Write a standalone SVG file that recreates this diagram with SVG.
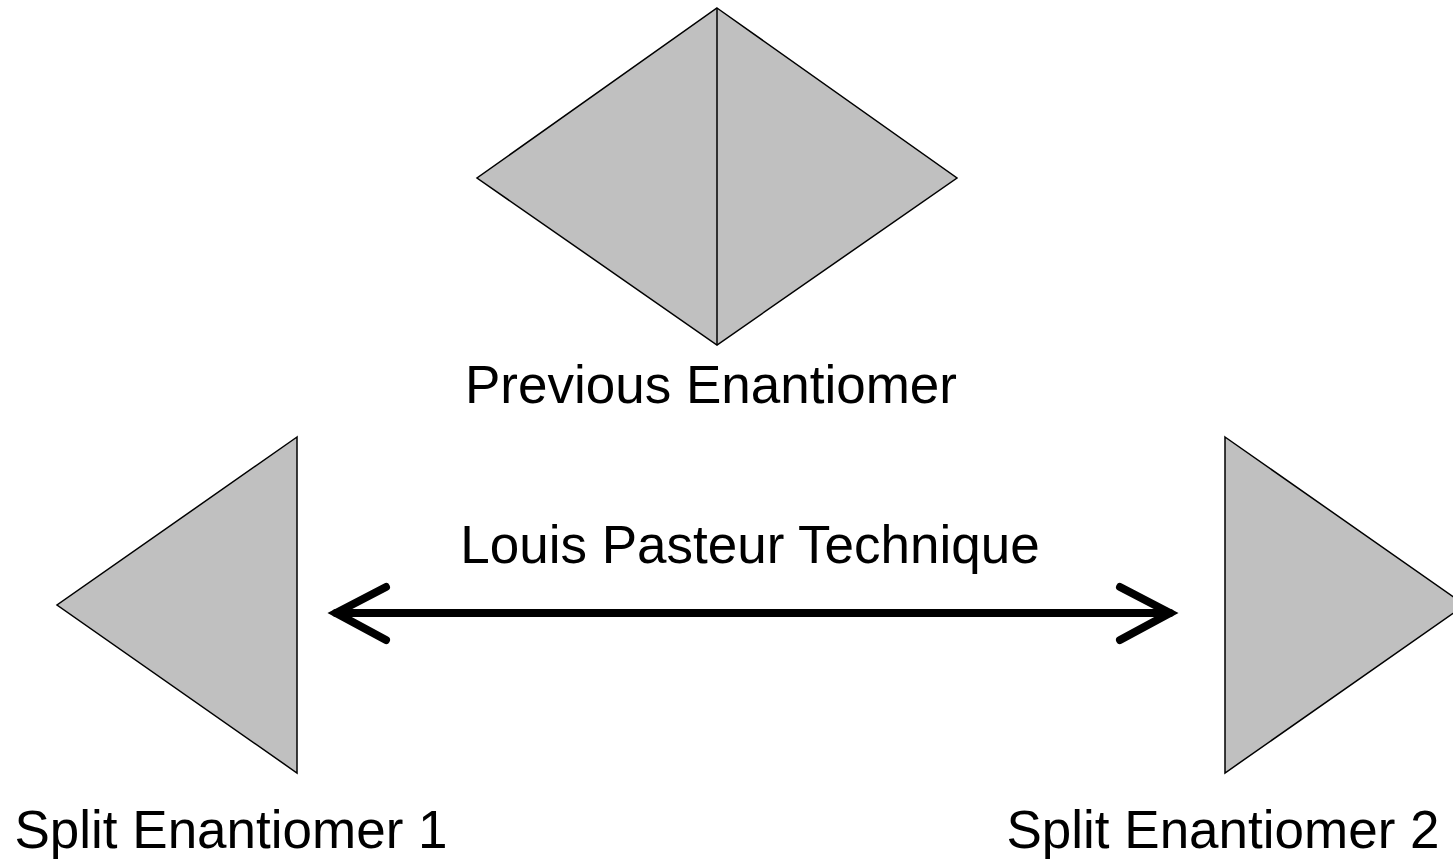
<svg xmlns="http://www.w3.org/2000/svg" width="1453" height="863" viewBox="0 0 1453 863">
<style>
.shape{fill:#c0c0c0;stroke:#000;stroke-width:1.5;stroke-linejoin:miter}
.lbl{font-family:"Liberation Sans",Arial,sans-serif;font-size:53px;fill:#000;text-anchor:middle}
.arrow{fill:none;stroke:#000;stroke-width:8;stroke-linecap:round;stroke-linejoin:miter}
</style>
<rect width="1453" height="863" fill="#fff"/>
<g id="previous">
<polygon class="shape" points="717,8 957,178 717,345 477,178"/>
<line x1="717" y1="8" x2="717" y2="345" stroke="#000" stroke-width="1.5"/>
<text class="lbl" x="711" y="403">Previous Enantiomer</text>
</g>
<g id="split1">
<polygon class="shape" points="297,437 57,605 297,773"/>
<text class="lbl" x="231" y="848">Split Enantiomer 1</text>
</g>
<g id="split2">
<polygon class="shape" points="1225,437 1465,605 1225,773"/>
<text class="lbl" x="1223" y="848">Split Enantiomer 2</text>
</g>
<g id="connectors">
<line class="arrow" x1="336" y1="613" x2="1170" y2="613"/>
<polyline class="arrow" points="386,587 336,613 386,640"/>
<polyline class="arrow" points="1120,587 1170,613 1120,640"/>
<text class="lbl" x="750" y="563">Louis Pasteur Technique</text>
</g>
</svg>
